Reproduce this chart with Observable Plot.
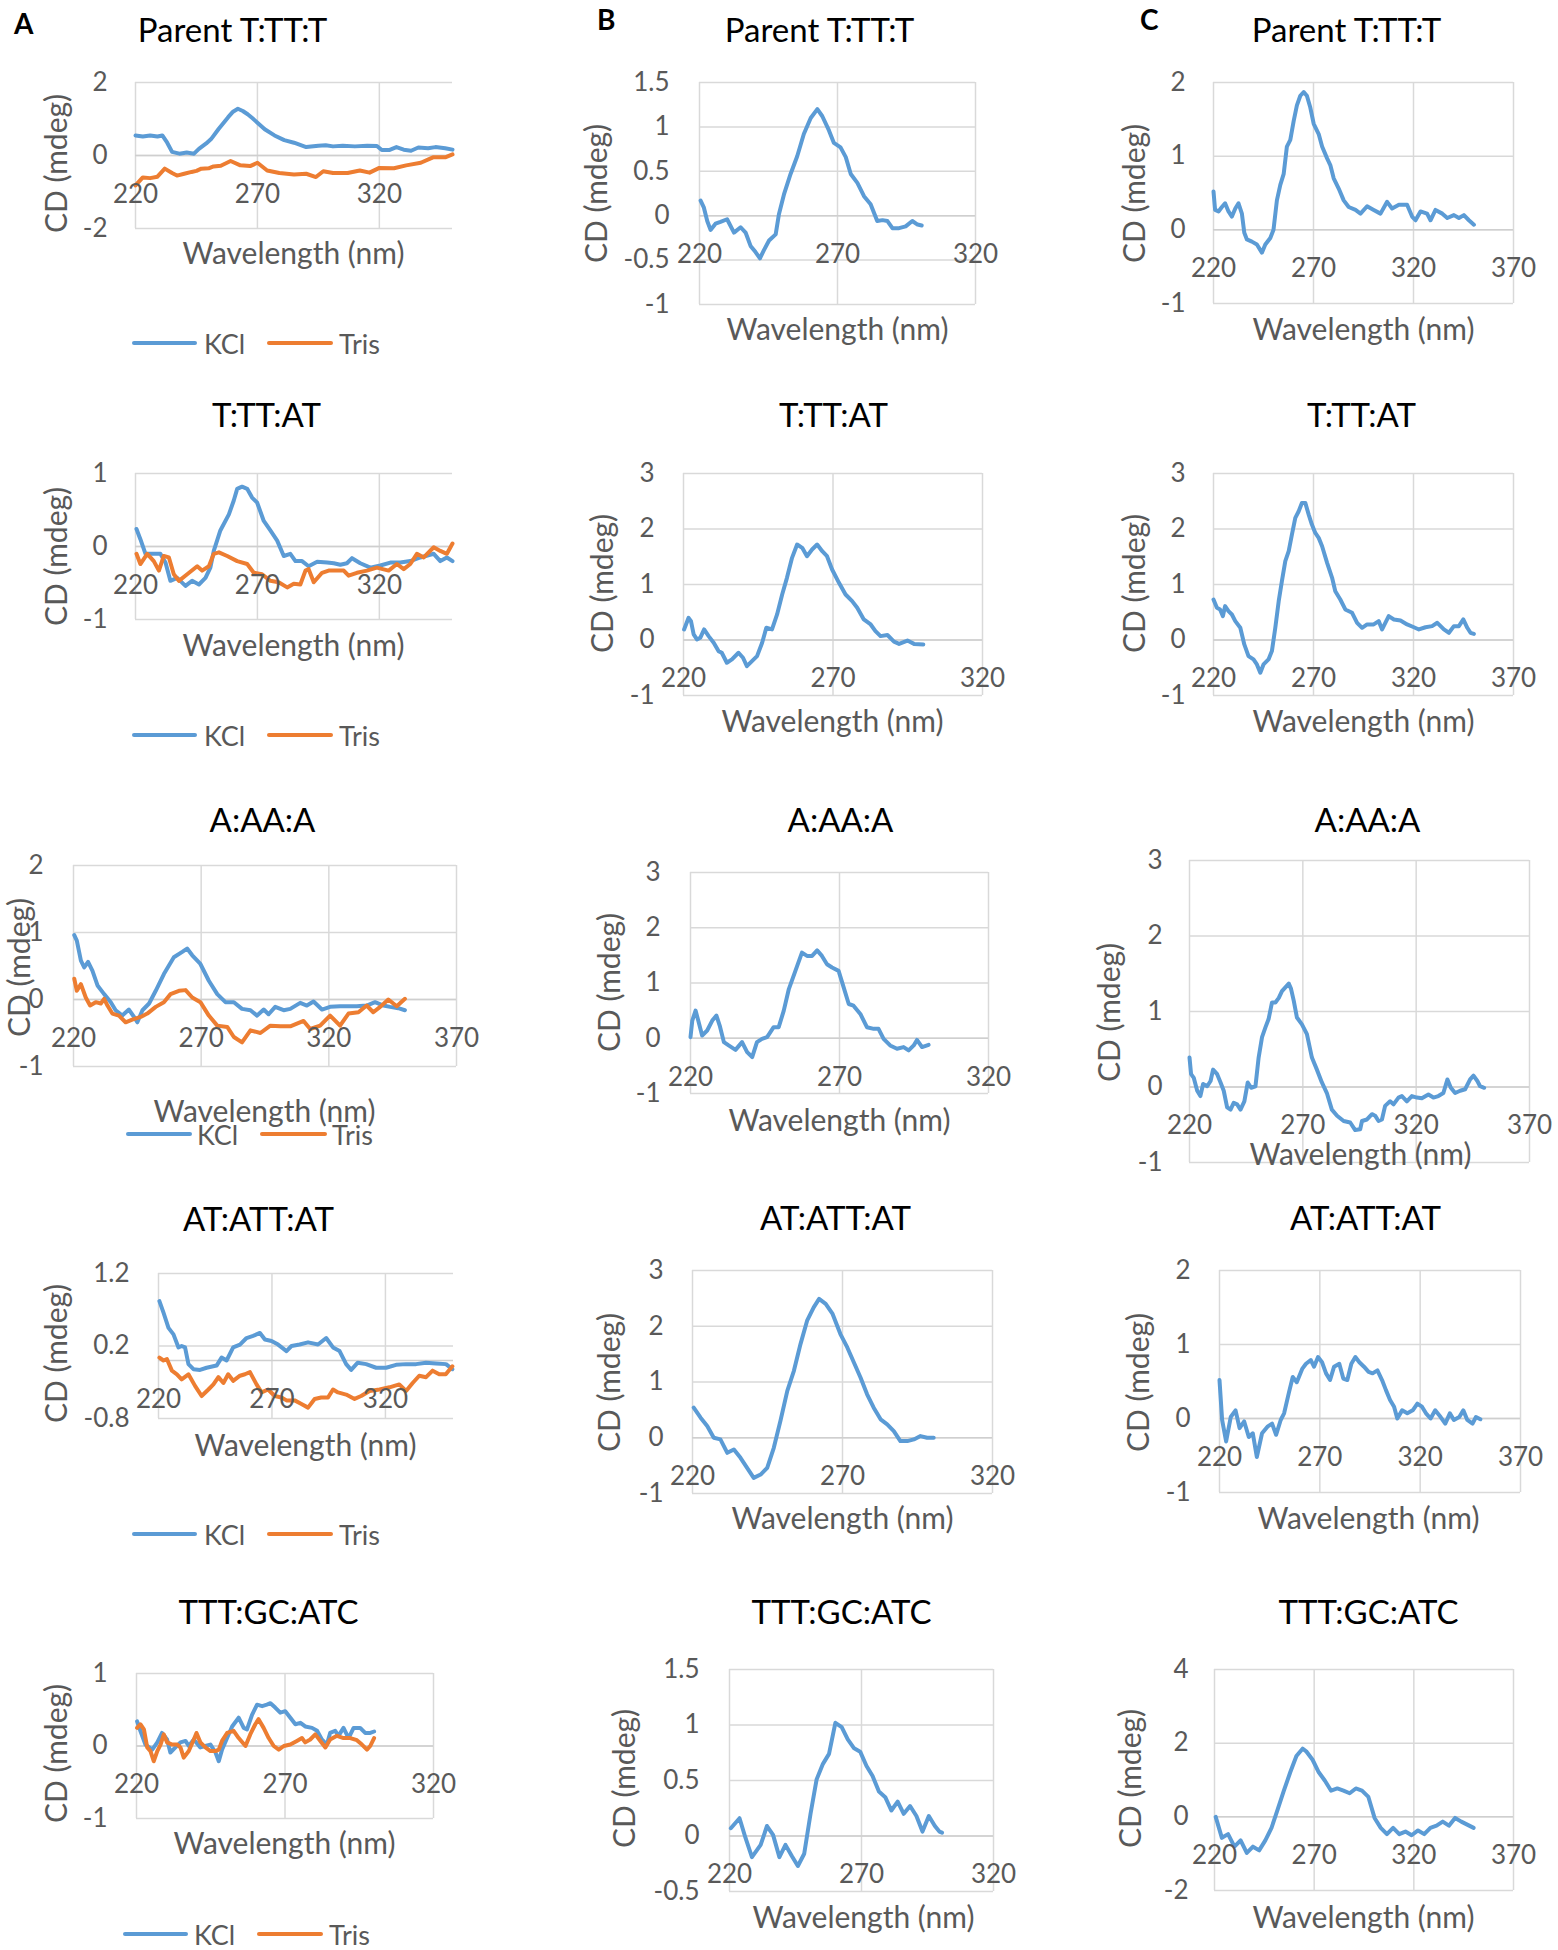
<!DOCTYPE html>
<html><head><meta charset="utf-8">
<script src="https://cdn.jsdelivr.net/npm/d3@7"></script>
<script src="https://cdn.jsdelivr.net/npm/@observablehq/plot@0.6"></script>
<style>
html,body{margin:0;padding:0;background:#fff;}
#page{position:relative;width:1558px;height:1950px;background:#fff;font-family:Lato,"Open Sans",sans-serif;overflow:hidden;}
.lbl{position:absolute;white-space:nowrap;line-height:1;transform:translateY(-50%);}
.lg{position:absolute;height:4px;border-radius:2px;}
</style></head><body><div id="page"></div>
<script>
// ---------- data: [wavelength nm, CD mdeg] ----------
const A1_KCL = [[220,0.55],[223,0.52],[226,0.55],[229,0.52],[231,0.55],[233,0.35],[235,0.10],[238,0.05],[241,0.08],[244,0.05],[246,0.18],[249,0.33],[251,0.45],[254,0.72],[258,1.05],[260,1.2],[262,1.28],[264,1.22],[266,1.13],[268,1.02],[270,0.90],[273,0.72],[277,0.55],[281,0.42],[285,0.35],[290,0.23],[295,0.27],[298,0.28],[301,0.25],[305,0.27],[310,0.25],[315,0.27],[319,0.26],[321,0.15],[324,0.15],[327,0.23],[330,0.16],[333,0.13],[336,0.22],[340,0.20],[343,0.23],[347,0.20],[350,0.16]];
const A1_TRIS = [[220,-0.82],[223,-0.6],[226,-0.62],[229,-0.58],[232,-0.36],[235,-0.48],[237,-0.55],[240,-0.5],[243,-0.45],[245,-0.42],[247,-0.36],[250,-0.35],[252,-0.3],[255,-0.28],[259,-0.15],[263,-0.27],[267,-0.29],[270,-0.2],[274,-0.41],[279,-0.48],[285,-0.52],[290,-0.5],[294,-0.59],[297,-0.43],[301,-0.48],[307,-0.48],[312,-0.41],[316,-0.47],[320,-0.34],[326,-0.35],[331,-0.27],[337,-0.2],[342,-0.05],[347,-0.05],[350,0.03]];
const A2_KCL = [[220.4,0.24],[222,0.1],[224.1,-0.1],[227.5,-0.1],[230.2,-0.1],[232.3,-0.22],[234.3,-0.47],[237.1,-0.43],[240.5,-0.54],[243.2,-0.47],[246,-0.52],[248.7,-0.43],[250.7,-0.29],[252.1,-0.06],[254.8,0.22],[258.3,0.44],[260.3,0.63],[261.7,0.79],[263.7,0.82],[265.8,0.79],[267.8,0.67],[269.9,0.6],[272.6,0.35],[275.3,0.22],[278.1,0.08],[280.8,-0.13],[283.5,-0.1],[285.6,-0.2],[288.3,-0.2],[291,-0.27],[294.5,-0.21],[298.6,-0.22],[301.3,-0.23],[304,-0.25],[306.7,-0.23],[308.8,-0.16],[312.2,-0.23],[316.3,-0.29],[320.4,-0.26],[324.5,-0.22],[328.6,-0.22],[332.7,-0.2],[336.8,-0.15],[342.3,-0.1],[345,-0.2],[347.7,-0.15],[350,-0.2]];
const A2_TRIS = [[220.4,-0.1],[222,-0.24],[224.8,-0.1],[227.5,-0.2],[229.6,-0.33],[231.6,-0.13],[233.7,-0.15],[235.7,-0.38],[237.8,-0.47],[241.2,-0.38],[245.3,-0.27],[247.3,-0.33],[250.1,-0.27],[252.1,-0.1],[254.2,-0.08],[257.6,-0.13],[261.7,-0.2],[265.8,-0.24],[268.5,-0.36],[271.9,-0.38],[275.3,-0.47],[278.7,-0.49],[282.2,-0.56],[284.9,-0.51],[287.6,-0.52],[289.7,-0.33],[291,-0.31],[293.1,-0.49],[296.5,-0.36],[299.2,-0.33],[302.6,-0.33],[305.4,-0.33],[307.4,-0.4],[310.8,-0.36],[314.9,-0.33],[319,-0.29],[323.8,-0.33],[327.2,-0.24],[330,-0.31],[332.7,-0.24],[335.4,-0.1],[338.2,-0.15],[342.3,-0.01],[345,-0.06],[347.7,-0.1],[350,0.04]];
const A3_KCL = [[220.3,0.96],[221.3,0.88],[222.9,0.58],[224.2,0.48],[225.7,0.56],[227.4,0.43],[229.4,0.21],[232,0.08],[234.6,-0.04],[236.5,-0.16],[239.1,-0.24],[241.7,-0.15],[243.7,-0.26],[245,-0.34],[247,-0.16],[249.6,-0.06],[252.2,0.13],[255.4,0.38],[259.3,0.63],[262.6,0.71],[264.5,0.76],[266.5,0.66],[269.7,0.53],[273,0.28],[276.3,0.08],[279.5,-0.04],[282.8,-0.04],[286,-0.14],[289.3,-0.16],[291.9,-0.24],[294.5,-0.15],[296.4,-0.22],[299,-0.11],[302.3,-0.16],[304.9,-0.14],[308.8,-0.05],[311.4,-0.09],[314,-0.03],[317.3,-0.15],[320.5,-0.11],[324.4,-0.1],[328.3,-0.1],[330.9,-0.1],[334.8,-0.09],[338.1,-0.04],[341.4,-0.09],[344,-0.11],[347.2,-0.13],[349.8,-0.16]];
const A3_TRIS = [[220.3,0.31],[221.3,0.13],[222.9,0.23],[224.8,0.03],[226.5,-0.09],[228.7,-0.04],[230.7,-0.06],[232,0.01],[233.3,-0.09],[235.2,-0.21],[237.8,-0.24],[240.4,-0.34],[243,-0.3],[246.3,-0.26],[248.9,-0.21],[252.2,-0.11],[255.4,-0.04],[258,0.08],[261.3,0.13],[263.9,0.14],[266.5,0.03],[269.7,-0.04],[273,-0.24],[276.3,-0.39],[280.2,-0.41],[282.8,-0.56],[286,-0.64],[289.3,-0.46],[293.2,-0.5],[297.1,-0.39],[301,-0.4],[304.9,-0.4],[310.1,-0.32],[312.7,-0.44],[316.6,-0.39],[320.5,-0.24],[324.4,-0.39],[327.7,-0.21],[331.6,-0.19],[334.8,-0.09],[337.4,-0.19],[340.1,-0.11],[343.3,0],[346.6,-0.1],[349.8,0.01]];
const A4_KCL = [[220.4,0.82],[222.2,0.66],[224.4,0.45],[226.6,0.36],[228.8,0.18],[230.2,0.2],[231.7,0.18],[233.2,-0.05],[235.4,-0.12],[238.3,-0.13],[241.2,-0.1],[245.6,-0.07],[247.8,0.04],[250,0],[252.9,0.18],[255.9,0.22],[258.8,0.31],[261.7,0.34],[264.7,0.38],[266.9,0.29],[269.8,0.27],[272.7,0.22],[276.4,0.13],[278.6,0.2],[282.2,0.22],[285.9,0.25],[290.3,0.22],[293.9,0.31],[296.9,0.18],[299.8,0.13],[302.7,-0.05],[304.9,-0.13],[307.8,-0.03],[311.5,-0.05],[315.9,-0.1],[320.3,-0.1],[324.7,-0.06],[329.1,-0.05],[333.5,-0.05],[337.9,-0.03],[342.3,-0.04],[346.7,-0.05],[349.5,-0.12]];
const A4_TRIS = [[220.4,0.04],[222.2,0],[223.7,0.02],[225.9,-0.14],[228.1,-0.19],[230.2,-0.26],[233.2,-0.19],[236.1,-0.35],[239,-0.49],[242,-0.4],[244.2,-0.33],[246.4,-0.23],[248.6,-0.31],[250.7,-0.19],[252.9,-0.28],[255.9,-0.21],[258.1,-0.19],[260.3,-0.16],[263.2,-0.33],[265.4,-0.44],[268.3,-0.4],[271.2,-0.49],[274.2,-0.51],[276.4,-0.55],[280,-0.55],[283,-0.6],[285.9,-0.65],[288.8,-0.53],[291.7,-0.51],[294.7,-0.51],[296.9,-0.4],[299.1,-0.44],[302.7,-0.47],[306.4,-0.53],[309.3,-0.49],[313,-0.42],[317.4,-0.4],[321.8,-0.37],[326.1,-0.33],[329.1,-0.42],[332,-0.31],[334.9,-0.21],[337.9,-0.23],[340.8,-0.14],[343.7,-0.19],[346.6,-0.19],[349.5,-0.08]];
const A5_KCL = [[220.2,0.34],[221.3,0.21],[223,0.02],[225.3,-0.05],[227,0.05],[228.6,0.18],[230.3,0.09],[231.4,-0.09],[233.1,-0.02],[234.8,0.05],[236.5,0.07],[237.6,0],[239.3,0.09],[241.5,-0.02],[243.2,0],[244.9,0.02],[246.6,-0.09],[247.7,-0.21],[248.8,-0.05],[250.5,0.11],[252.2,0.27],[254.4,0.39],[256.1,0.25],[257.2,0.23],[258.9,0.43],[260.6,0.57],[262.3,0.55],[263.9,0.57],[265.1,0.59],[266.7,0.53],[268.4,0.46],[270.1,0.48],[271.8,0.39],[273.5,0.3],[275.2,0.32],[276.8,0.27],[279.1,0.25],[280.8,0.21],[282.4,0.09],[284.1,0.02],[285.2,0.18],[286.9,0.21],[288,0.14],[289.7,0.25],[291.4,0.11],[293.1,0.25],[295.3,0.25],[297,0.18],[298.7,0.18],[300,0.2]];
const A5_TRIS = [[220.2,0.25],[221.3,0.3],[222.5,0.23],[223.6,-0.02],[224.7,-0.07],[225.8,-0.21],[227,-0.07],[228.1,0.02],[229.2,0.16],[230.3,0.05],[232,0.02],[233.7,0.02],[234.8,-0.02],[235.9,-0.16],[237.6,-0.07],[239.3,0.09],[240.2,0.18],[241.5,0.05],[243.2,-0.02],[244.9,-0.07],[246.6,-0.07],[247.7,-0.05],[248.8,0.07],[250.5,0.18],[252.7,0.21],[254.4,0.11],[256.7,0],[258.3,0.16],[260,0.3],[261.1,0.37],[262.8,0.25],[264.5,0.11],[266.2,0],[267.9,-0.05],[269.6,0],[271.8,0.02],[274,0.07],[275.7,0.11],[276.8,0.05],[278.5,0.09],[280.2,0.16],[281.9,0.07],[283.6,-0.02],[285.2,0.09],[287.5,0.14],[289.7,0.11],[292,0.11],[294.2,0.08],[295.9,0.02],[297.6,-0.05],[298.7,0],[300,0.11]];
const B1_KCL = [[220.4,0.17],[221.6,0.09],[222.8,-0.06],[224,-0.16],[225.8,-0.09],[227.6,-0.07],[230,-0.04],[232.5,-0.19],[234.9,-0.13],[236.7,-0.19],[238.5,-0.34],[240.3,-0.41],[241.9,-0.48],[243.3,-0.39],[245.2,-0.28],[247.6,-0.21],[248.8,0.02],[250.6,0.24],[253,0.47],[255.4,0.67],[257.8,0.92],[260.3,1.1],[262.7,1.2],[264.5,1.12],[266.9,0.96],[268.7,0.82],[271.1,0.77],[273,0.66],[274.8,0.47],[277.2,0.37],[279.6,0.22],[282,0.13],[284.4,-0.06],[286.3,-0.05],[288.1,-0.06],[289.9,-0.14],[292.3,-0.14],[294.7,-0.12],[297.1,-0.06],[299,-0.1],[300.5,-0.11]];
const B2_KCL = [[220.2,0.19],[221.7,0.4],[222.5,0.34],[223.4,0.1],[224.5,0.01],[225.6,0.04],[226.9,0.19],[228.4,0.07],[230.1,-0.05],[231.7,-0.2],[232.8,-0.23],[234.5,-0.41],[236.2,-0.35],[238.4,-0.23],[239.9,-0.32],[241.2,-0.47],[242.9,-0.38],[244.6,-0.29],[246.3,-0.05],[247.7,0.22],[249.6,0.19],[251.3,0.46],[253,0.82],[254.6,1.12],[256.3,1.48],[258,1.72],[259.7,1.66],[261.3,1.51],[263,1.63],[264.7,1.72],[266.4,1.6],[268,1.51],[269.7,1.27],[272,1.03],[274.2,0.82],[276.4,0.7],[278.1,0.58],[280.3,0.37],[282.6,0.28],[284.2,0.16],[285.9,0.07],[288.2,0.09],[290.4,-0.03],[292.1,-0.07],[294.9,-0.01],[297.1,-0.07],[300.2,-0.08]];
const B3_KCL = [[220,0.02],[220.6,0.32],[221.7,0.5],[222.6,0.32],[223.9,0.05],[225.6,0.14],[227.3,0.32],[228.7,0.41],[229.8,0.23],[231.2,-0.07],[232.8,-0.13],[235.1,-0.21],[237.3,-0.07],[239,-0.25],[240.7,-0.34],[242.3,-0.07],[244,-0.01],[245.7,0.02],[247.9,0.2],[249.6,0.2],[251.3,0.5],[253,0.89],[255.2,1.22],[257.4,1.55],[259.1,1.49],[260.8,1.49],[262.5,1.59],[264.1,1.49],[265.8,1.34],[267.5,1.28],[269.7,1.22],[271.4,0.92],[273.1,0.62],[274.7,0.59],[277,0.44],[279.2,0.2],[281.5,0.17],[283.1,0.17],[284.8,-0.01],[287,-0.13],[289.3,-0.19],[291.5,-0.16],[293.2,-0.22],[294.9,-0.13],[296,-0.03],[297.7,-0.16],[299.9,-0.12]];
const B4_KCL = [[220.4,0.54],[222.7,0.36],[224.9,0.21],[227.1,0],[229.3,-0.03],[231.6,-0.27],[233.8,-0.21],[236,-0.36],[238.2,-0.54],[240.4,-0.72],[242.7,-0.66],[244.9,-0.54],[247.1,-0.18],[249.3,0.3],[251.6,0.84],[253.8,1.2],[256,1.68],[258.2,2.1],[260.4,2.34],[262.2,2.49],[264.4,2.4],[266.7,2.22],[269.3,1.86],[271.6,1.62],[273.8,1.35],[276,1.08],[278.2,0.78],[280.4,0.54],[282.7,0.33],[284.9,0.24],[287.1,0.12],[289.3,-0.06],[291.6,-0.06],[293.8,-0.03],[296,0.03],[298.2,0],[300.4,0]];
const B5_KCL = [[220.5,0.07],[223.8,0.16],[226.1,-0.02],[228.5,-0.19],[231.8,-0.08],[234.2,0.09],[236.5,0.01],[238.9,-0.19],[241.2,-0.08],[243.6,-0.18],[245.9,-0.27],[248.3,-0.16],[250.7,0.2],[253,0.51],[255.4,0.65],[257.7,0.74],[260.1,1.02],[262.5,0.98],[264.8,0.87],[267.2,0.79],[269.5,0.76],[271.9,0.63],[274.2,0.54],[276.6,0.4],[279,0.35],[281.3,0.23],[283.7,0.31],[286,0.2],[288.4,0.27],[290.8,0.18],[293.1,0.04],[295.5,0.18],[297.8,0.09],[299.5,0.04],[300.5,0.03]];
const C1_KCL = [[220,0.52],[220.8,0.27],[222.5,0.25],[224.2,0.31],[225.8,0.36],[227.5,0.25],[229.2,0.18],[230.9,0.29],[232.5,0.36],[234.2,0.22],[235.4,-0.04],[236.7,-0.13],[239.2,-0.16],[241.7,-0.2],[244.2,-0.31],[245.9,-0.2],[248.4,-0.11],[250,0],[251.7,0.4],[253.4,0.61],[255.1,0.76],[256.7,1.13],[258.4,1.22],[260.1,1.48],[261.7,1.69],[263.4,1.82],[265.1,1.87],[266.7,1.82],[268.4,1.66],[270.1,1.44],[272.6,1.3],[274.3,1.13],[276.8,0.97],[278.4,0.88],[280.1,0.7],[282.6,0.56],[285.1,0.4],[287.6,0.31],[291,0.27],[293.5,0.22],[296.8,0.32],[300.1,0.27],[303.5,0.22],[306.8,0.38],[309.3,0.29],[312.7,0.34],[316.8,0.34],[319.3,0.18],[321,0.13],[323.5,0.25],[326.8,0.22],[328.5,0.13],[331,0.27],[334.4,0.22],[336.9,0.16],[340.2,0.2],[342.7,0.16],[345.2,0.2],[347.7,0.13],[350.2,0.07]];
const C2_KCL = [[220,0.73],[221.7,0.58],[223.3,0.55],[224.7,0.43],[225.8,0.61],[227.5,0.52],[229.2,0.46],[230.9,0.34],[233.4,0.22],[235.4,-0.08],[237.5,-0.29],[240,-0.35],[241.7,-0.44],[243.4,-0.59],[245,-0.44],[247.5,-0.35],[249.2,-0.2],[250.9,0.22],[252.6,0.7],[254.2,1.06],[255.9,1.42],[257.6,1.6],[259.2,1.9],[260.9,2.2],[262.6,2.32],[264.2,2.47],[265.9,2.47],[267.6,2.26],[269.2,2.08],[270.9,1.93],[272.6,1.84],[274.3,1.69],[276.8,1.39],[279.3,1.12],[280.9,0.88],[283.4,0.73],[285.9,0.55],[289.3,0.49],[291.8,0.31],[294.3,0.22],[296.8,0.28],[300.1,0.28],[302.6,0.34],[304.3,0.19],[307.6,0.43],[310.2,0.37],[313.5,0.35],[316.8,0.28],[320.2,0.23],[322.7,0.19],[326,0.23],[329.3,0.25],[331.9,0.31],[335.2,0.19],[337.7,0.13],[340.2,0.25],[342.7,0.25],[344.9,0.37],[346.9,0.22],[348.5,0.13],[350.2,0.11]];
const C3_KCL = [[220,0.39],[220.7,0.17],[221.9,0.12],[223.4,-0.05],[224.8,-0.12],[226,0.04],[227.8,0.01],[229.3,0.08],[230.4,0.23],[232.2,0.17],[233.7,0.06],[235.1,-0.05],[236.6,-0.27],[238.1,-0.3],[239.5,-0.21],[241,-0.23],[242.5,-0.3],[244.2,-0.19],[245.7,0.06],[247.2,-0.01],[249.1,0.01],[250.5,0.39],[252,0.66],[253.5,0.79],[254.9,0.9],[256.4,1.12],[257.9,1.12],[259.4,1.18],[260.8,1.27],[262.3,1.32],[263.8,1.37],[264.8,1.3],[266,1.14],[267.4,0.92],[269.6,0.83],[271.8,0.7],[274,0.39],[276.2,0.23],[278.4,0.06],[280.6,-0.08],[282.8,-0.3],[285.1,-0.38],[288,-0.45],[290.9,-0.47],[293.1,-0.57],[295.3,-0.56],[296.1,-0.45],[298.3,-0.43],[300.5,-0.36],[301.9,-0.38],[303.4,-0.45],[304.9,-0.43],[306.3,-0.25],[308.5,-0.19],[310,-0.23],[312.2,-0.14],[313.7,-0.12],[315.9,-0.19],[318.1,-0.12],[320.3,-0.14],[322.5,-0.15],[325.4,-0.1],[327.6,-0.14],[329.8,-0.12],[332,-0.08],[333.8,0.1],[335.3,-0.01],[337.2,-0.08],[339.4,-0.05],[341.6,-0.03],[343.8,0.1],[345.3,0.15],[347,0.08],[348.2,0.01],[350,-0.01]];
const C4_KCL = [[220,0.52],[221.3,-0.02],[223.3,-0.31],[225.6,0.02],[228,0.11],[230,-0.13],[232.3,-0.04],[234.6,-0.25],[236.6,-0.2],[238.6,-0.52],[241.2,-0.2],[243.9,-0.11],[246.2,-0.07],[248.2,-0.22],[250.5,-0.02],[252.2,0.07],[254.5,0.34],[256.5,0.56],[258.5,0.49],[261.2,0.67],[263.1,0.74],[265.5,0.79],[267.1,0.7],[269.1,0.83],[271.1,0.76],[273.1,0.61],[275.1,0.52],[277.1,0.7],[279.7,0.74],[281.7,0.54],[283.7,0.52],[285.7,0.74],[287.7,0.83],[289.7,0.76],[292,0.7],[294.3,0.63],[296.3,0.61],[298.7,0.65],[301,0.52],[303,0.38],[305,0.25],[307,0.16],[308.6,0],[311,0.11],[313.6,0.07],[316.3,0.11],[318.6,0.2],[320.9,0.16],[322.9,0.07],[325.2,0],[327.5,0.11],[330.2,0.02],[332.5,-0.07],[334.8,0.07],[336.8,-0.02],[339.5,0.02],[341.5,0.11],[343.5,-0.02],[346.1,-0.07],[347.8,0.02],[350,-0.01]];
const C5_KCL = [[220.6,0],[223.7,-0.57],[226.8,-0.47],[230,-0.81],[233.1,-0.64],[236.2,-0.98],[239.3,-0.81],[242.4,-0.91],[245.5,-0.64],[248.6,-0.3],[251.7,0.2],[254.8,0.71],[258,1.21],[261.1,1.65],[264.2,1.85],[266,1.78],[269.2,1.55],[272.3,1.21],[275.4,0.98],[278.5,0.71],[281.6,0.77],[284.7,0.71],[287.8,0.64],[290.9,0.77],[294,0.71],[297.2,0.54],[300.3,-0.03],[303.4,-0.3],[306.5,-0.47],[309.6,-0.3],[312.7,-0.47],[315.8,-0.4],[318.9,-0.5],[322.1,-0.37],[325.2,-0.47],[328.3,-0.3],[331.4,-0.24],[334.5,-0.13],[337.6,-0.24],[340.7,-0.03],[343.8,-0.13],[350,-0.3]];

// ---------- tick values ----------
const X_TICKS_320 = [220, 270, 320];
const X_TICKS_370 = [220, 270, 320, 370];
const Y_TICKS_2 = [2, 0, -2];
const Y_TICKS_1 = [1, 0, -1];
const Y_TICKS_AAA = [2, 1, 0, -1];
const Y_TICKS_ATT = [1.2, 0.2, -0.8];
const Y_TICKS_B1 = [1.5, 1, 0.5, 0, -0.5, -1];
const Y_TICKS_3 = [3, 2, 1, 0, -1];
const Y_TICKS_B5 = [1.5, 1, 0.5, 0, -0.5];
const Y_TICKS_4 = [4, 2, 0, -2];
const SERIES_NAMES = ["KCl", "Tris"];

// ---------- styles ----------
const BLUE = "#5b9bd5", ORANGE = "#ed7d31";
const GRID = "#d9d9d9", AXIS = "#cfcfcf", TXT = "#595959";
const TITLE_FS = 33, TICK_FS = 26, AXT_FS = 30, LEG_FS = 27;

// ---------- layout (page pixels) ----------
const PANELS = [
  {cell:[0,0,520,380], frame:[135,452,82,228], xd:[220,350], xt:X_TICKS_320, yd:[-2,2], yt:Y_TICKS_2, ylr:107, title:"Parent T:TT:T", tc:[232,31], wl:[293,254], cd:[57,163], s:[[A1_KCL,BLUE],[A1_TRIS,ORANGE]], leg:{y:343,b:[132,197],k:204,o:[267,333],t:339}},
  {cell:[0,380,520,400], frame:[135,452,473,619], xd:[220,350], xt:X_TICKS_320, yd:[-1,1], yt:Y_TICKS_1, ylr:107, title:"T:TT:AT", tc:[266,416], wl:[293,646], cd:[57,556], s:[[A2_KCL,BLUE],[A2_TRIS,ORANGE]], leg:{y:735,b:[132,197],k:204,o:[267,333],t:339}},
  {cell:[0,780,520,400], frame:[73,456,865,1066], xd:[220,370], xt:X_TICKS_370, yd:[-1,2], yt:Y_TICKS_AAA, ylr:43, title:"A:AA:A", tc:[262,821], wl:[264,1112], cd:[20,967], s:[[A3_KCL,BLUE],[A3_TRIS,ORANGE]], leg:{y:1134,b:[126,192],k:197,o:[260,327],t:332}},
  {cell:[0,1180,520,400], frame:[158,453,1273,1418], xd:[220,350], xt:X_TICKS_320, yd:[-0.8,1.2], yt:Y_TICKS_ATT, ylr:129, title:"AT:ATT:AT", tc:[258,1220], wl:[305,1446], cd:[57,1353], s:[[A4_KCL,BLUE],[A4_TRIS,ORANGE]], leg:{y:1534,b:[132,197],k:204,o:[267,333],t:339}},
  {cell:[0,1580,520,370], frame:[136,433,1673,1818], xd:[220,320], xt:X_TICKS_320, yd:[-1,1], yt:Y_TICKS_1, ylr:107, title:"TTT:GC:ATC", tc:[268,1613], wl:[284,1844], cd:[57,1753], s:[[A5_KCL,BLUE],[A5_TRIS,ORANGE]], leg:{y:1934,b:[123,188],k:194,o:[257,323],t:329}},
  {cell:[520,0,520,380], frame:[699,975,82,304], xd:[220,320], xt:X_TICKS_320, yd:[-1,1.5], yt:Y_TICKS_B1, ylr:669, title:"Parent T:TT:T", tc:[819,31], wl:[837,330], cd:[597,193], s:[[B1_KCL,BLUE]]},
  {cell:[520,380,520,400], frame:[683,982,473,695], xd:[220,320], xt:X_TICKS_320, yd:[-1,3], yt:Y_TICKS_3, ylr:654, title:"T:TT:AT", tc:[833,416], wl:[832,722], cd:[603,583], s:[[B2_KCL,BLUE]]},
  {cell:[520,780,520,400], frame:[690,988,872,1093], xd:[220,320], xt:X_TICKS_320, yd:[-1,3], yt:Y_TICKS_3, ylr:660, title:"A:AA:A", tc:[840,821], wl:[839,1121], cd:[610,982], s:[[B3_KCL,BLUE]]},
  {cell:[520,1180,520,400], frame:[692,992,1270,1493], xd:[220,320], xt:X_TICKS_320, yd:[-1,3], yt:Y_TICKS_3, ylr:663, title:"AT:ATT:AT", tc:[835,1219], wl:[842,1519], cd:[610,1382], s:[[B4_KCL,BLUE]]},
  {cell:[520,1580,520,370], frame:[729,993,1669,1891], xd:[220,320], xt:X_TICKS_320, yd:[-0.5,1.5], yt:Y_TICKS_B5, ylr:699, title:"TTT:GC:ATC", tc:[841,1613], wl:[863,1918], cd:[625,1778], s:[[B5_KCL,BLUE]]},
  {cell:[1040,0,518,380], frame:[1213,1513,82,303], xd:[220,370], xt:X_TICKS_370, yd:[-1,2], yt:Y_TICKS_AAA, ylr:1185, title:"Parent T:TT:T", tc:[1346,31], wl:[1363,330], cd:[1135,193], s:[[C1_KCL,BLUE]]},
  {cell:[1040,380,518,400], frame:[1213,1513,473,695], xd:[220,370], xt:X_TICKS_370, yd:[-1,3], yt:Y_TICKS_3, ylr:1185, title:"T:TT:AT", tc:[1361,416], wl:[1363,722], cd:[1135,583], s:[[C2_KCL,BLUE]]},
  {cell:[1040,780,518,400], frame:[1189,1529,860,1162], xd:[220,370], xt:X_TICKS_370, yd:[-1,3], yt:Y_TICKS_3, ylr:1162, title:"A:AA:A", tc:[1367,821], wl:[1360,1155], cd:[1110,1012], s:[[C3_KCL,BLUE]]},
  {cell:[1040,1180,518,400], frame:[1219,1520,1270,1492], xd:[220,370], xt:X_TICKS_370, yd:[-1,2], yt:Y_TICKS_AAA, ylr:1190, title:"AT:ATT:AT", tc:[1365,1219], wl:[1368,1519], cd:[1139,1382], s:[[C4_KCL,BLUE]]},
  {cell:[1040,1580,518,370], frame:[1214,1513,1669,1890], xd:[220,370], xt:X_TICKS_370, yd:[-2,4], yt:Y_TICKS_4, ylr:1188, title:"TTT:GC:ATC", tc:[1368,1613], wl:[1363,1918], cd:[1131,1778], s:[[C5_KCL,BLUE]]}
];
const LETTERS = [["A",14,23],["B",597,19],["C",1140,19]];

const page = document.getElementById("page");
function label(text, x, y, size, color, weight) {
  const d = document.createElement("div");
  d.className = "lbl"; d.textContent = text;
  d.style.left = x + "px"; d.style.top = y + "px";
  d.style.fontSize = size + "px"; d.style.color = color;
  if (weight) d.style.fontWeight = weight;
  page.appendChild(d);
}
function legLine(x1, x2, y, color) {
  const d = document.createElement("div");
  d.className = "lg";
  d.style.left = x1 + "px"; d.style.top = (y - 2) + "px";
  d.style.width = (x2 - x1) + "px"; d.style.background = color;
  page.appendChild(d);
}

for (const p of PANELS) {
  const [cx, cy, cw, ch] = p.cell;
  const [fx0, fx1, fy0, fy1] = p.frame;
  const txt = {fontSize: TICK_FS, fill: TXT};
  const marks = [
    Plot.ruleX(p.xt, {x: d => d, stroke: GRID, strokeWidth: 1.5}),
    Plot.ruleY(p.yt, {y: d => d, stroke: GRID, strokeWidth: 1.5}),
    Plot.ruleY([0], {y: d => d, stroke: AXIS, strokeWidth: 1.5}),
    ...p.s.map(([data, color]) => Plot.line(data, {x: d => d[0], y: d => d[1], stroke: color, strokeWidth: 4, strokeLinejoin: "round", strokeLinecap: "round"})),
    Plot.text(p.xt, {x: d => d, y: () => 0, dy: 39, text: d => String(d), textAnchor: "middle", ...txt}),
    Plot.text(p.yt, {x: () => p.xd[0], y: d => d, dx: p.ylr - fx0, text: d => String(d), textAnchor: "end", ...txt}),
    Plot.text([p.title], {frameAnchor: "top-left", dx: p.tc[0] - fx0, dy: p.tc[1] - fy0, text: d => d, textAnchor: "middle", lineAnchor: "middle", fontSize: TITLE_FS, fill: "#000"}),
    Plot.text(["Wavelength (nm)"], {frameAnchor: "top-left", dx: p.wl[0] - fx0, dy: p.wl[1] - fy0, text: d => d, textAnchor: "middle", lineAnchor: "middle", fontSize: AXT_FS, fill: TXT}),
    Plot.text(["CD (mdeg)"], {frameAnchor: "top-left", dx: p.cd[0] - fx0, dy: p.cd[1] - fy0, text: d => d, textAnchor: "middle", lineAnchor: "middle", rotate: -90, fontSize: AXT_FS, fill: TXT})
  ];
  const chart = Plot.plot({
    width: cw, height: ch,
    marginLeft: fx0 - cx, marginRight: cx + cw - fx1,
    marginTop: fy0 - cy, marginBottom: cy + ch - fy1,
    x: {domain: p.xd, axis: null},
    y: {domain: p.yd, axis: null},
    style: {background: "transparent", overflow: "visible", fontFamily: "Lato, 'Open Sans', sans-serif"},
    marks
  });
  chart.style.position = "absolute";
  chart.style.left = cx + "px";
  chart.style.top = cy + "px";
  page.appendChild(chart);
  if (p.leg) {
    const L = p.leg;
    legLine(L.b[0], L.b[1], L.y, BLUE);
    label(SERIES_NAMES[0], L.k, L.y, LEG_FS, TXT);
    legLine(L.o[0], L.o[1], L.y, ORANGE);
    label(SERIES_NAMES[1], L.t, L.y, LEG_FS, TXT);
  }
}
for (const [t, x, y] of LETTERS) label(t, x, y, 28, "#000", "bold");
</script></body></html>
